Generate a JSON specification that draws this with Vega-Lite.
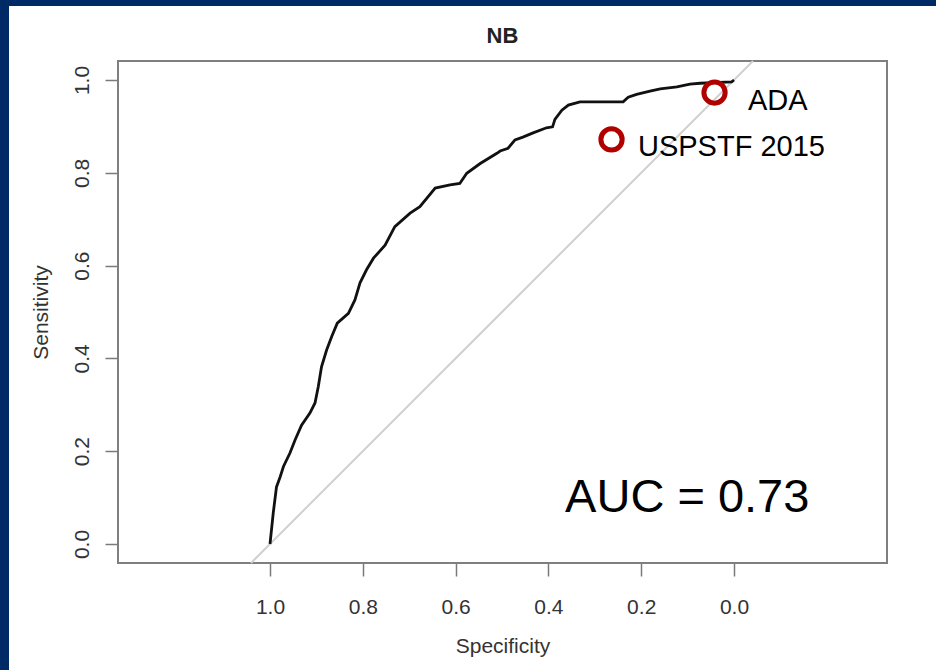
{
  "$schema": "https://vega.github.io/schema/vega-lite/v6.json",
  "width": 927,
  "height": 664,
  "autosize": {"type": "none"},
  "padding": {"left": 9, "top": 6, "right": 0, "bottom": 0},
  "background": "#002a66",
  "config": {
    "view": {"fill": "white", "stroke": null},
    "font": "Liberation Sans",
    "axis": {"grid": false}
  },
  "datasets": {
    "frame": [{"spec": 1.3276, "sens": -0.0409, "spec2": -0.3297, "sens2": 1.0409}],
    "diagonal": [
      {"spec": 1.0409, "sens": -0.0409, "order": 1},
      {"spec": -0.0409, "sens": 1.0409, "order": 2}
    ],
    "roc": [
      {"order": 1, "spec": 1.0, "sens": 0.0},
      {"order": 2, "spec": 0.993, "sens": 0.067},
      {"order": 3, "spec": 0.986, "sens": 0.123},
      {"order": 4, "spec": 0.978, "sens": 0.145},
      {"order": 5, "spec": 0.971, "sens": 0.167},
      {"order": 6, "spec": 0.957, "sens": 0.196},
      {"order": 7, "spec": 0.946, "sens": 0.224},
      {"order": 8, "spec": 0.932, "sens": 0.256},
      {"order": 9, "spec": 0.914, "sens": 0.282},
      {"order": 10, "spec": 0.903, "sens": 0.304},
      {"order": 11, "spec": 0.896, "sens": 0.339},
      {"order": 12, "spec": 0.889, "sens": 0.382},
      {"order": 13, "spec": 0.878, "sens": 0.418},
      {"order": 14, "spec": 0.867, "sens": 0.447},
      {"order": 15, "spec": 0.855, "sens": 0.476},
      {"order": 16, "spec": 0.831, "sens": 0.497},
      {"order": 17, "spec": 0.817, "sens": 0.526},
      {"order": 18, "spec": 0.806, "sens": 0.563},
      {"order": 19, "spec": 0.792, "sens": 0.591},
      {"order": 20, "spec": 0.777, "sens": 0.616},
      {"order": 21, "spec": 0.752, "sens": 0.644},
      {"order": 22, "spec": 0.731, "sens": 0.684},
      {"order": 23, "spec": 0.698, "sens": 0.713},
      {"order": 24, "spec": 0.677, "sens": 0.727},
      {"order": 25, "spec": 0.644, "sens": 0.767},
      {"order": 26, "spec": 0.612, "sens": 0.774},
      {"order": 27, "spec": 0.591, "sens": 0.777},
      {"order": 28, "spec": 0.576, "sens": 0.799},
      {"order": 29, "spec": 0.547, "sens": 0.82},
      {"order": 30, "spec": 0.511, "sens": 0.842},
      {"order": 31, "spec": 0.504, "sens": 0.847},
      {"order": 32, "spec": 0.487, "sens": 0.853},
      {"order": 33, "spec": 0.472, "sens": 0.871},
      {"order": 34, "spec": 0.455, "sens": 0.877},
      {"order": 35, "spec": 0.433, "sens": 0.886},
      {"order": 36, "spec": 0.404, "sens": 0.897},
      {"order": 37, "spec": 0.391, "sens": 0.899},
      {"order": 38, "spec": 0.386, "sens": 0.915},
      {"order": 39, "spec": 0.371, "sens": 0.935},
      {"order": 40, "spec": 0.357, "sens": 0.946},
      {"order": 41, "spec": 0.332, "sens": 0.953},
      {"order": 42, "spec": 0.239, "sens": 0.953},
      {"order": 43, "spec": 0.228, "sens": 0.963},
      {"order": 44, "spec": 0.21, "sens": 0.969},
      {"order": 45, "spec": 0.181, "sens": 0.976},
      {"order": 46, "spec": 0.159, "sens": 0.981},
      {"order": 47, "spec": 0.123, "sens": 0.985},
      {"order": 48, "spec": 0.095, "sens": 0.991},
      {"order": 49, "spec": 0.073, "sens": 0.993},
      {"order": 50, "spec": 0.005, "sens": 0.996},
      {"order": 51, "spec": 0.0, "sens": 1.0}
    ],
    "cutoffs": [
      {"name": "ADA", "spec": 0.042, "sens": 0.973},
      {"name": "USPSTF 2015", "spec": 0.264, "sens": 0.872}
    ],
    "cutoffLabels": [
      {"label": "ADA", "spec": -0.03, "sens": 0.935},
      {"label": "USPSTF 2015", "spec": 0.207, "sens": 0.836}
    ],
    "title": [{"label": "NB", "spec": 0.499, "sens": 1.08}],
    "auc": [{"label": "AUC = 0.73", "spec": 0.364, "sens": 0.069}]
  },
  "encoding": {
    "x": {
      "field": "spec",
      "type": "quantitative",
      "scale": {"domain": [-0.4353, 1.5625], "reverse": true, "nice": false, "zero": false},
      "axis": {
        "title": "Specificity",
        "values": [0, 0.2, 0.4, 0.6, 0.8, 1],
        "format": ".1f",
        "offset": -107,
        "domain": false,
        "tickSize": 13,
        "tickColor": "#7a7a7a",
        "tickWidth": 1.5,
        "labelPadding": 20,
        "labelFontSize": 21,
        "labelColor": "#333333",
        "labelFlush": false,
        "labelOverlap": false,
        "titleFontSize": 21,
        "titleFontWeight": "normal",
        "titleColor": "#333333",
        "titleX": 493.5,
        "titleY": 89,
        "titleAlign": "center",
        "titleBaseline": "alphabetic"
      }
    },
    "y": {
      "field": "sens",
      "type": "quantitative",
      "scale": {"domain": [-0.2716, 1.1595], "nice": false, "zero": false},
      "axis": {
        "title": "Sensitivity",
        "values": [0, 0.2, 0.4, 0.6, 0.8, 1],
        "format": ".1f",
        "offset": -109,
        "domain": false,
        "tickSize": 13,
        "tickColor": "#7a7a7a",
        "tickWidth": 1.5,
        "labelAngle": -90,
        "labelAlign": "center",
        "labelBaseline": "alphabetic",
        "labelPadding": 17,
        "labelFontSize": 21,
        "labelColor": "#333333",
        "labelFlush": false,
        "labelOverlap": false,
        "titleFontSize": 21,
        "titleFontWeight": "normal",
        "titleColor": "#333333",
        "titleAngle": -90,
        "titleX": -71,
        "titleY": 306,
        "titleAlign": "center",
        "titleBaseline": "alphabetic"
      }
    }
  },
  "layer": [
    {
      "data": {"name": "frame"},
      "mark": {"type": "rect", "fill": null, "fillOpacity": 0, "stroke": "#7f7f7f", "strokeWidth": 2},
      "encoding": {
        "x2": {"field": "spec2"},
        "y2": {"field": "sens2"}
      }
    },
    {
      "data": {"name": "diagonal"},
      "mark": {"type": "line", "color": "#d0d0d0", "strokeWidth": 2},
      "encoding": {"order": {"field": "order", "type": "quantitative"}}
    },
    {
      "data": {"name": "roc"},
      "mark": {"type": "line", "color": "#111111", "strokeWidth": 2.8},
      "encoding": {"order": {"field": "order", "type": "quantitative"}}
    },
    {
      "data": {"name": "cutoffs"},
      "mark": {"type": "point", "shape": "circle", "filled": false, "stroke": "#b00000", "strokeWidth": 5, "size": 452, "opacity": 1}
    },
    {
      "data": {"name": "cutoffLabels"},
      "mark": {"type": "text", "align": "left", "baseline": "alphabetic", "fontSize": 29, "color": "#000000", "font": "Liberation Sans"},
      "encoding": {"text": {"field": "label"}}
    },
    {
      "data": {"name": "title"},
      "mark": {"type": "text", "align": "center", "baseline": "alphabetic", "fontSize": 22, "fontWeight": "bold", "color": "#222222", "font": "Liberation Sans"},
      "encoding": {"text": {"field": "label"}}
    },
    {
      "data": {"name": "auc"},
      "mark": {"type": "text", "align": "left", "baseline": "alphabetic", "fontSize": 47, "color": "#000000", "font": "Liberation Sans"},
      "encoding": {"text": {"field": "label"}}
    }
  ]
}
